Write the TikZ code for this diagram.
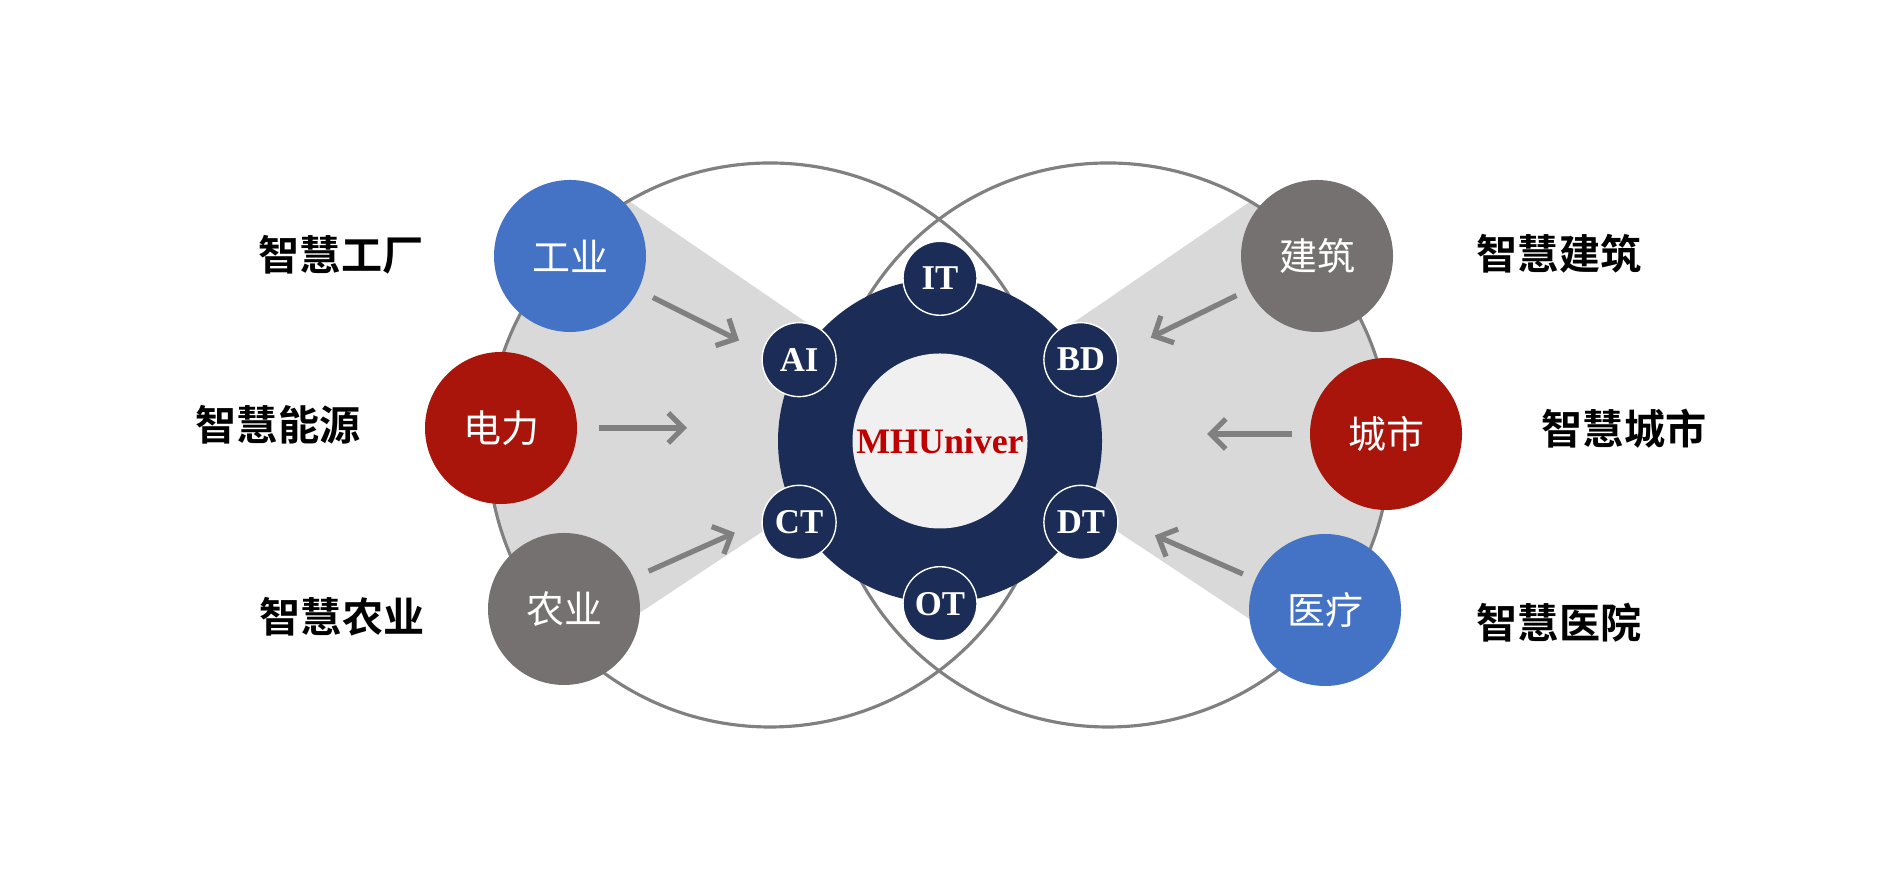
\documentclass[tikz,border=0pt]{standalone}
\usepackage{fontspec}
\setmainfont{Liberation Serif}
\newfontfamily\cjk{Noto Sans CJK SC}[BoldFont={Noto Sans CJK SC Bold}]
\usetikzlibrary{arrows.meta, calc}
\definecolor{mhblue}{HTML}{4472C4}
\definecolor{mhred}{HTML}{A9150B}
\definecolor{mhgray}{HTML}{767171}
\definecolor{navy}{RGB}{27,45,86}
\definecolor{brandred}{HTML}{C00000}
\definecolor{ringgray}{HTML}{808080}
\definecolor{wedgegray}{HTML}{D9D9D9}
\tikzset{
    ring/.style={draw=ringgray, line width=0.9pt},
    wedge/.style={fill=wedgegray},
    outer/.style={circle, minimum size=1.52cm, inner sep=0pt, text=white, font=\cjk\fontsize{10.8}{12}\selectfont},
    tech/.style={circle, fill=navy, draw=white, line width=0.4pt, minimum size=0.74cm, inner sep=0pt, text=white, font=\bfseries\fontsize{9.9}{11}\selectfont},
    lbl/.style={inner sep=0pt, font=\cjk\bfseries\fontsize{11.7}{14}\selectfont},
    arrow/.style={-{Straight Barb[length=1.5mm, width=3mm]}, line width=1.5pt, ringgray}
}

\begin{document}
\begin{tikzpicture}
        \useasboundingbox (0,0) rectangle (18.89,8.73);
        % grey funnels
        \begin{scope}
            \clip (7.70,4.28) circle (2.82);
            \fill[wedge] (9.40,4.59) -- (3.24,8.81) -- (3.42,0.63) -- cycle;
        \end{scope}
        \begin{scope}
            \clip (11.08,4.28) circle (2.82);
            \fill[wedge] (9.40,4.59) -- (15.56,8.81) -- (15.38,0.63) -- cycle;
        \end{scope}
        \draw[ring] (7.70,4.28) circle (2.82);
        \draw[ring] (11.08,4.28) circle (2.82);
        % core
        \node [circle, fill=navy, minimum size=3.24cm, inner sep=0pt] (core) at (9.40,4.32) {};
        \node [circle, fill=black!6, minimum size=1.75cm, inner sep=0pt, text=brandred, font=\bfseries\fontsize{10.2}{12}\selectfont] (brand) at (core) {MHUniver};
        \node [tech] (it) at (core.90) {IT};
        \node [tech] (bd) at (core.30) {BD};
        \node [tech] (ai) at (core.150) {AI};
        \node [tech] (ct) at (core.210) {CT};
        \node [tech] (dt) at (core.330) {DT};
        \node [tech] (ot) at (core.270) {OT};
        % fields
        \node [outer, fill=mhblue] (gy) at (5.70,6.17) {工业};
        \node [outer, fill=mhred] (dl) at (5.01,4.45) {电力};
        \node [outer, fill=mhgray] (ny) at (5.64,2.64) {农业};
        \node [outer, fill=mhgray] (jz) at (13.17,6.17) {建筑};
        \node [outer, fill=mhred] (cs) at (13.86,4.39) {城市};
        \node [outer, fill=mhblue] (yl) at (13.25,2.63) {医疗};
        \draw [arrow, shorten <=0.16cm, shorten >=0.62cm] (gy) -- (core);
        \draw [arrow, shorten <=0.21cm, shorten >=2.53cm] (dl) -- (dl -| core);
        \draw [arrow, shorten <=0.16cm, shorten >=0.62cm] (ny) -- (core);
        \draw [arrow, shorten <=0.13cm, shorten >=0.72cm] (jz) -- (core);
        \draw [arrow, shorten <=0.17cm, shorten >=2.67cm] (cs) -- (cs -| core);
        \draw [arrow, shorten <=0.13cm, shorten >=0.72cm] (yl) -- (core);
        % titles
        \node [lbl] (lgy) at (3.41,6.18) {智慧工厂};
        \node [lbl] (ldl) at (2.78,4.48) {智慧能源};
        \node [lbl] (lny) at (3.42,2.56) {智慧农业};
        \node [lbl] (ljz) at (15.59,6.19) {智慧建筑};
        \node [lbl] (lcs) at (16.24,4.44) {智慧城市};
        \node [lbl] (lyl) at (15.59,2.50) {智慧医院};
    \end{tikzpicture}
\end{document}
